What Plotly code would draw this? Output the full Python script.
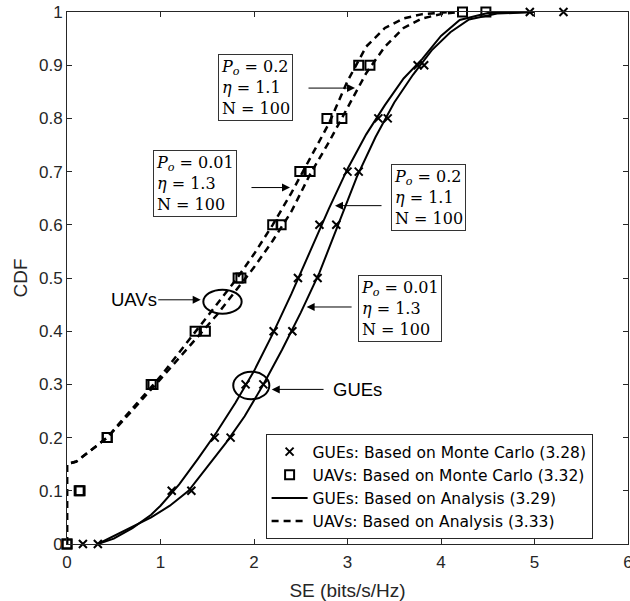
import plotly.graph_objects as go

# ---------------- data ----------------
cdf_levels = [0, 0.1, 0.2, 0.3, 0.4, 0.5, 0.6, 0.7, 0.8, 0.9, 1.0]

# Monte Carlo samples (x = SE at each CDF level)
gue_mc_a = [0.17, 1.12, 1.58, 1.91, 2.21, 2.47, 2.70, 3.00, 3.33, 3.75, 4.95]
gue_mc_b = [0.33, 1.33, 1.75, 2.10, 2.41, 2.68, 2.88, 3.12, 3.43, 3.82, 5.31]
uav_mc_a = [0.00, 0.13, 0.43, 0.90, 1.37, 1.83, 2.20, 2.49, 2.78, 3.12, 4.23]
uav_mc_b = [0.00, 0.14, 0.43, 0.92, 1.48, 1.86, 2.29, 2.60, 2.94, 3.24, 4.48]

# Analysis curves
gue_an_a_x = [0.33, 0.5, 0.7, 0.9, 1.0, 1.2, 1.4, 1.6, 1.8, 2.0, 2.2, 2.4, 2.6, 2.8,
              3.0, 3.2, 3.4, 3.6, 3.8, 4.0, 4.2, 4.5, 5.0]
gue_an_a_y = [0.0, 0.010, 0.030, 0.055, 0.072, 0.112, 0.160, 0.210, 0.265, 0.325, 0.395,
              0.470, 0.550, 0.630, 0.705, 0.770, 0.825, 0.875, 0.912, 0.955, 0.985, 0.998, 1.0]
gue_an_b_x = [0.33, 0.5, 0.7, 0.9, 1.1, 1.3, 1.5, 1.7, 1.9, 2.1, 2.3, 2.5, 2.7, 2.9,
              3.1, 3.3, 3.5, 3.7, 3.9, 4.1, 4.3, 4.6, 5.0]
gue_an_b_y = [0.0, 0.015, 0.033, 0.050, 0.072, 0.100, 0.145, 0.190, 0.240, 0.300, 0.365,
              0.435, 0.510, 0.600, 0.690, 0.765, 0.830, 0.882, 0.928, 0.962, 0.986, 0.997, 1.0]
uav_an_a_x = [0, 0, 0.1, 0.25, 0.43, 0.6, 0.8, 1.0, 1.2, 1.4, 1.6, 1.8, 2.0, 2.2, 2.4,
              2.6, 2.8, 3.0, 3.2, 3.4, 3.6, 3.8, 4.1]
uav_an_a_y = [0, 0.15, 0.155, 0.175, 0.20, 0.235, 0.275, 0.315, 0.360, 0.405, 0.450, 0.495,
              0.545, 0.600, 0.660, 0.725, 0.790, 0.870, 0.935, 0.970, 0.988, 0.996, 1.0]
uav_an_b_x = [0, 0, 0.1, 0.25, 0.43, 0.6, 0.8, 1.0, 1.2, 1.4, 1.6, 1.8, 2.0, 2.2, 2.4,
              2.6, 2.8, 3.0, 3.2, 3.4, 3.6, 3.8, 4.0, 4.2]
uav_an_b_y = [0, 0.15, 0.155, 0.175, 0.20, 0.232, 0.270, 0.310, 0.350, 0.390, 0.430, 0.475,
              0.520, 0.570, 0.625, 0.695, 0.755, 0.820, 0.885, 0.935, 0.970, 0.988, 0.996, 1.0]

x_ticks = [0, 1, 2, 3, 4, 5, 6]
y_ticks = [0, 0.1, 0.2, 0.3, 0.4, 0.5, 0.6, 0.7, 0.8, 0.9, 1]
y_tick_labels = ["0", "0.1", "0.2", "0.3", "0.4", "0.5", "0.6", "0.7", "0.8", "0.9", "1"]

legend_names = ["GUEs: Based on Monte Carlo (3.28)", "UAVs: Based on Monte Carlo (3.32)",
                "GUEs: Based on Analysis (3.29)", "UAVs: Based on Analysis (3.33)"]

# ---------------- figure ----------------
fig = go.Figure()
BLACK = "black"
AX = "#262626"

# analysis curves
for i, (xs, ys) in enumerate([(gue_an_a_x, gue_an_a_y), (gue_an_b_x, gue_an_b_y)]):
    fig.add_trace(go.Scatter(x=xs, y=ys, mode="lines", line=dict(color=BLACK, width=2),
                             name=legend_names[2], legendgroup="g3", showlegend=(i == 0),
                             legendrank=3))
for i, (xs, ys) in enumerate([(uav_an_a_x, uav_an_a_y), (uav_an_b_x, uav_an_b_y)]):
    fig.add_trace(go.Scatter(x=xs, y=ys, mode="lines",
                             line=dict(color=BLACK, width=2.5, dash="7px,5px"),
                             name=legend_names[3], legendgroup="g4", showlegend=(i == 0),
                             legendrank=4, cliponaxis=False))
# Monte Carlo markers
for i, xs in enumerate([gue_mc_a, gue_mc_b]):
    fig.add_trace(go.Scatter(x=xs, y=cdf_levels, mode="markers", cliponaxis=False,
                             marker=dict(symbol="x-thin-open", size=8, color=BLACK,
                                         line=dict(width=2, color=BLACK)),
                             name=legend_names[0], legendgroup="g1", showlegend=(i == 0),
                             legendrank=1))
for i, xs in enumerate([uav_mc_a, uav_mc_b]):
    fig.add_trace(go.Scatter(x=xs, y=cdf_levels, mode="markers", cliponaxis=False,
                             marker=dict(symbol="square-open", size=9, color=BLACK,
                                         line=dict(width=2, color=BLACK)),
                             name=legend_names[1], legendgroup="g2", showlegend=(i == 0),
                             legendrank=2))

serif = dict(family="DejaVu Serif", size=16, color="black")
boxes = [
    (1.615, 0.921, "<i>P<sub>o</sub></i> = 0.2<br><i>η</i> = 1.1<br>N = 100"),
    (0.92, 0.741, "<i>P<sub>o</sub></i> = 0.01<br><i>η</i> = 1.3<br>N = 100"),
    (3.46, 0.715, "<i>P<sub>o</sub></i> = 0.2<br><i>η</i> = 1.1<br>N = 100"),
    (3.11, 0.505, "<i>P<sub>o</sub></i> = 0.01<br><i>η</i> = 1.3<br>N = 100"),
]
for bx, by, txt in boxes:
    fig.add_annotation(x=bx, y=by, xref="x", yref="y", text=txt, showarrow=False,
                       xanchor="left", yanchor="top", align="left", font=serif,
                       bordercolor="#333", borderwidth=1, borderpad=2, bgcolor="white")

arrows = [  # (tail_x, tail_y, tip_x, tip_y)
    (2.567, 0.857, 3.08, 0.857),
    (1.957, 0.670, 2.385, 0.670),
    (3.38, 0.636, 2.866, 0.636),
    (3.06, 0.4455, 2.563, 0.4455),
    (2.76, 0.2906, 2.19, 0.2906),
    (0.96, 0.459, 1.43, 0.459),
]
for tx, ty, hx, hy in arrows:
    fig.add_annotation(x=hx, y=hy, ax=tx, ay=ty, xref="x", yref="y", axref="x", ayref="y",
                       text="", showarrow=True, arrowhead=2, arrowsize=1.6, arrowwidth=1,
                       arrowcolor="black", standoff=0, startstandoff=0)

sans = dict(family="Liberation Sans", size=18.5, color="black")
fig.add_annotation(x=2.83, y=0.291, xref="x", yref="y", text="GUEs", showarrow=False,
                   xanchor="left", yanchor="middle", font=sans, xshift=-1)
fig.add_annotation(x=0.96, y=0.459, xref="x", yref="y", text="UAVs", showarrow=False,
                   xanchor="right", yanchor="middle", font=sans, xshift=2)

# ellipses
fig.add_shape(type="circle", xref="x", yref="y", x0=1.458, x1=1.868, y0=0.433, y1=0.478,
              line=dict(color="black", width=2))
fig.add_shape(type="circle", xref="x", yref="y", x0=1.778, x1=2.164, y0=0.272, y1=0.324,
              line=dict(color="black", width=2))

axis_common = dict(showgrid=False, zeroline=False, showline=True, linecolor=AX,
                   linewidth=1, mirror="ticks", ticks="inside", ticklen=5, tickwidth=1,
                   tickcolor=AX, tickfont=dict(family="Liberation Sans", size=17, color=AX),
                   ticklabeloverflow="allow", automargin=False)
fig.update_xaxes(range=[0, 6], tickvals=x_ticks, ticklabelstandoff=3,
                 title=dict(text="SE (bits/s/Hz)",
                            font=dict(family="Liberation Sans", size=19, color=AX), standoff=14),
                 **axis_common)
fig.update_yaxes(range=[0, 1], tickvals=y_ticks, ticktext=y_tick_labels,
                 title=dict(text="CDF", font=dict(family="Liberation Sans", size=19, color=AX),
                            standoff=6),
                 **axis_common)

fig.update_layout(
    width=630, height=601, margin=dict(l=67, r=2, t=12, b=57),
    plot_bgcolor="white", paper_bgcolor="white",
    legend=dict(x=0.354, y=0.2066, xanchor="left", yanchor="top", bgcolor="white",
                bordercolor=AX, borderwidth=1, tracegroupgap=0,
                font=dict(family="DejaVu Sans", size=15.5, color="black"),
                itemwidth=36),
)

fig.write_html("out.html")
